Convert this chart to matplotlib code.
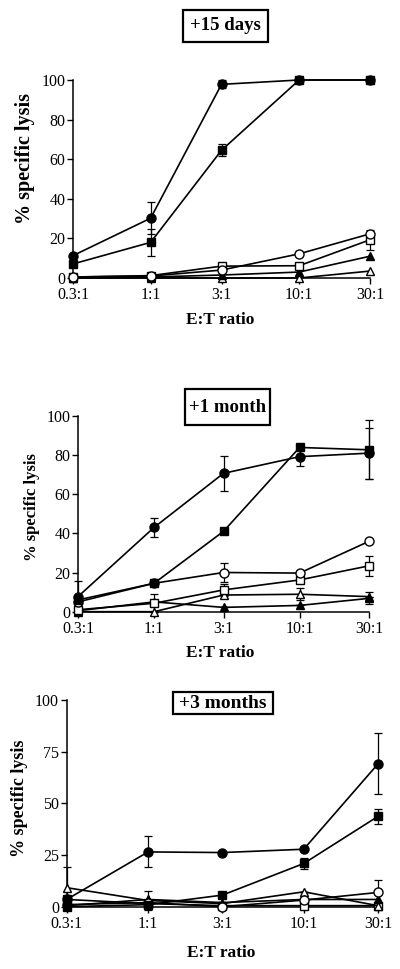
import matplotlib
matplotlib.use("Agg")
import matplotlib.pyplot as plt
from matplotlib.patches import Rectangle
import numpy as np

plt.rcParams['font.family'] = ['Liberation Serif', 'DejaVu Serif']

ratios = [0.3, 1, 3, 10, 30]
tick_labels = ["0.3:1", "1:1", "3:1", "10:1", "30:1"]

# Panel 1: +15 days
p1_filled_circle = [11.3, 30.2, 97.8, 100, 100]
p1_filled_circle_err = [0, 8, 2, 0, 0]
p1_filled_square = [7.1, 18, 64.5, 100, 100]
p1_filled_square_err = [0, 7, 3, 0, 0]
p1_open_circle = [0.5, 1, 4, 12.2, 22.3]
p1_open_square = [0.5, 1.2, 6, 6.2, 19.3]
p1_open_square_err = [0, 0, 0, 0, 5]
p1_filled_triangle = [0, 0.5, 1.5, 3, 11]
p1_open_triangle = [0, 0, 0, 0, 3.5]

# Panel 2: +1 month
p2_filled_circle = [7.7, 43, 70.6, 79.1, 80.9]
p2_filled_circle_err = [8, 5, 9, 4.7, 13]
p2_filled_square = [6, 14.5, 41, 83.8, 82.6]
p2_filled_square_err = [0, 0, 0, 0, 15]
p2_open_circle = [5, 14.5, 20, 19.7, 35.9]
p2_open_circle_err = [0, 0, 5, 0, 0]
p2_open_square = [1, 4.3, 11.1, 16.2, 23.4]
p2_open_square_err = [0, 4.5, 3, 0, 5]
p2_filled_triangle = [0.5, 5, 2.2, 3.2, 6.8]
p2_filled_triangle_err = [0, 0, 0, 0, 3]
p2_open_triangle = [0, 0, 8.5, 8.9, 7.7]
p2_open_triangle_err = [0, 0, 0, 3, 0]

# Panel 3: +3 months
p3_filled_circle = [3.5, 26.5, 26.2, 27.8, 69.1]
p3_filled_circle_err = [0, 7.5, 0, 0, 14.7]
p3_filled_square = [0, 1, 5.6, 20.9, 43.7]
p3_filled_square_err = [0, 0, 0, 2.5, 3.5]
p3_open_circle = [1, 2, 0, 3.2, 6.9]
p3_open_circle_err = [0, 0, 0, 0, 6]
p3_open_square = [3.5, 1.5, 0.5, 0.5, 0.5]
p3_filled_triangle = [0.5, 3.5, 2, 3.5, 3.5]
p3_open_triangle = [9.2, 3, 1.5, 7.2, 0.5]
p3_open_triangle_err = [10, 4.5, 0, 0, 0]

W, H = 400, 969
fig = plt.figure(figsize=(W / 100, H / 100), dpi=100)

def fax(l, r, top, bot):
    return fig.add_axes([l / W, 1 - bot / H, (r - l) / W, (bot - top) / H])

MS = 6.5
styles = {
    'fc': dict(marker='o', mfc='black', mec='black', ms=MS),
    'fs': dict(marker='s', mfc='black', mec='black', ms=MS - 0.5),
    'oc': dict(marker='o', mfc='white', mec='black', ms=MS, mew=1.0),
    'os': dict(marker='s', mfc='white', mec='black', ms=MS - 0.5, mew=1.0),
    'ft': dict(marker='^', mfc='black', mec='black', ms=MS - 0.5),
    'ot': dict(marker='^', mfc='white', mec='black', ms=MS - 0.5, mew=1.0),
}

def draw(ax, series, yticks, ylim_top):
    for key, vals, err in series:
        if err is not None:
            ax.errorbar(ratios, vals, yerr=err, fmt='none', ecolor='black',
                        elinewidth=0.9, capsize=3, capthick=0.9, clip_on=False, zorder=2)
        ax.plot(ratios, vals, color='black', lw=1.2, clip_on=False, zorder=3,
                **styles[key])
    ax.set_xscale('log')
    ax.set_xlim(0.3, 30)
    ax.set_ylim(0, ylim_top)
    ax.set_xticks(ratios)
    ax.set_xticklabels(tick_labels)
    ax.minorticks_off()
    ax.set_yticks(yticks)
    ax.tick_params(axis='both', labelsize=11.5, length=4, width=1, colors='black')
    ax.tick_params(axis='y', pad=1.5)
    ax.tick_params(axis='x', pad=2.5)
    for s in ['top', 'right']:
        ax.spines[s].set_visible(False)
    for s in ['left', 'bottom']:
        ax.spines[s].set_linewidth(1.1)

def title_box(cx, cy, w, h, text, fs):
    fig.patches.append(Rectangle(((cx - w / 2) / W, 1 - (cy + h / 2) / H), w / W, h / H,
                                 transform=fig.transFigure, fill=True, fc='white',
                                 ec='black', lw=1.6, zorder=5))
    fig.text(cx / W, 1 - cy / H, text, ha='center', va='center', fontsize=fs,
             fontweight='bold', zorder=6)

def ylab(x, y, fs):
    fig.text(x / W, 1 - y / H, "% specific lysis", rotation=90, ha='center', va='center',
             fontsize=fs, fontweight='bold')

def xlab(x, y):
    fig.text(x / W, 1 - y / H, "E:T ratio", ha='center', va='center',
             fontsize=12.5, fontweight='bold')

# Panel 1
ax1 = fax(73, 370, 80, 278)
draw(ax1, [
    ('ot', p1_open_triangle, None),
    ('ft', p1_filled_triangle, None),
    ('os', p1_open_square, p1_open_square_err),
    ('oc', p1_open_circle, None),
    ('fc', p1_filled_circle, p1_filled_circle_err),
    ('fs', p1_filled_square, p1_filled_square_err),
], [0, 20, 40, 60, 80, 100], 100)
title_box(225.5, 26, 85, 32, "+15 days", 13.5)
ylab(25, 158, 14.5)
xlab(220, 320)

# Panel 2
ax2 = fax(78, 369, 415.7, 611.7)
draw(ax2, [
    ('ot', p2_open_triangle, p2_open_triangle_err),
    ('ft', p2_filled_triangle, p2_filled_triangle_err),
    ('os', p2_open_square, p2_open_square_err),
    ('oc', p2_open_circle, p2_open_circle_err),
    ('fs', p2_filled_square, p2_filled_square_err),
    ('fc', p2_filled_circle, p2_filled_circle_err),
], [0, 20, 40, 60, 80, 100], 100)
title_box(227.5, 407, 85, 36, "+1 month", 13.5)
ylab(32, 507.5, 12)
xlab(220, 653)

# Panel 3
ax3 = fax(66.7, 378, 700, 906.7)
draw(ax3, [
    ('os', p3_open_square, None),
    ('ot', p3_open_triangle, p3_open_triangle_err),
    ('ft', p3_filled_triangle, None),
    ('oc', p3_open_circle, p3_open_circle_err),
    ('fs', p3_filled_square, p3_filled_square_err),
    ('fc', p3_filled_circle, p3_filled_circle_err),
], [0, 25, 50, 75, 100], 100)
title_box(223, 703, 100, 22, "+3 months", 14)
ylab(20, 798, 13)
xlab(221, 953)

fig.savefig("out.png", dpi=100)
